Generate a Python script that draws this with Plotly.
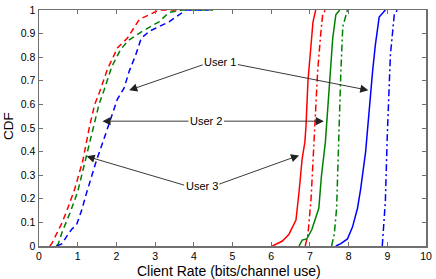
import plotly.graph_objects as go

# ---- data ----
red_dash_x = [0.28, 0.33, 0.45, 0.60, 0.72, 0.92, 1.13, 1.31, 1.44, 1.56, 1.77, 2.03, 2.28, 2.59, 2.85, 3.10, 3.60]
red_dash_y = [0.00, 0.01, 0.05, 0.10, 0.15, 0.24, 0.36, 0.51, 0.60, 0.65, 0.75, 0.84, 0.88, 0.96, 0.98, 1.00, 1.00]

green_dash_x = [0.45, 0.50, 0.60, 0.80, 1.00, 1.20, 1.40, 1.55, 1.68, 1.88, 2.10, 2.30, 2.67, 3.10, 3.36, 3.70, 4.50]
green_dash_y = [0.00, 0.01, 0.06, 0.14, 0.23, 0.36, 0.50, 0.60, 0.66, 0.76, 0.83, 0.87, 0.91, 0.95, 0.99, 1.00, 1.00]

blue_dash_x = [0.46, 0.60, 0.71, 0.84, 0.97, 1.10, 1.22, 1.48, 1.65, 1.82, 2.02, 2.20, 2.33, 2.50, 2.64, 2.85, 3.36, 3.80, 4.40]
blue_dash_y = [0.00, 0.01, 0.04, 0.07, 0.09, 0.15, 0.22, 0.36, 0.44, 0.52, 0.62, 0.67, 0.74, 0.81, 0.88, 0.91, 0.95, 1.00, 1.00]

red_solid_x = [6.03, 6.28, 6.46, 6.64, 6.72, 6.80, 6.87, 6.90, 6.95, 7.03, 7.08, 7.15]
red_solid_y = [0.00, 0.02, 0.05, 0.11, 0.23, 0.37, 0.44, 0.51, 0.70, 0.88, 0.95, 1.00]

red_dd_x = [6.88, 6.95, 7.03, 7.10, 7.15, 7.20, 7.28, 7.33, 7.40]
red_dd_y = [0.00, 0.05, 0.20, 0.44, 0.60, 0.74, 0.90, 0.98, 1.00]

green_solid_x = [6.72, 6.80, 6.92, 7.05, 7.23, 7.30, 7.40, 7.45, 7.51, 7.59, 7.67, 7.77]
green_solid_y = [0.00, 0.025, 0.03, 0.07, 0.16, 0.30, 0.44, 0.55, 0.70, 0.88, 0.98, 1.00]

green_dd_x = [7.56, 7.63, 7.69, 7.74, 7.77, 7.80, 7.85, 7.97]
green_dd_y = [0.00, 0.05, 0.16, 0.44, 0.55, 0.74, 0.93, 1.00]

blue_solid_x = [7.67, 7.80, 7.97, 8.10, 8.23, 8.31, 8.44, 8.54, 8.62, 8.69, 8.79, 8.95]
blue_solid_y = [0.00, 0.01, 0.03, 0.08, 0.16, 0.24, 0.40, 0.60, 0.74, 0.85, 0.97, 1.00]

blue_dd_x = [8.87, 8.95, 9.00, 9.08, 9.18, 9.26]
blue_dd_y = [0.00, 0.19, 0.47, 0.81, 0.98, 1.00]

x_ticks = list(range(0, 11))
y_ticks = [0, 0.1, 0.2, 0.3, 0.4, 0.5, 0.6, 0.7, 0.8, 0.9, 1]
y_tick_labels = ["0", "0.1", "0.2", "0.3", "0.4", "0.5", "0.6", "0.7", "0.8", "0.9", "1"]

labels = ["User 1", "User 2", "User 3"]
label_x = [4.67, 4.31, 4.20]
label_y = [0.778, 0.529, 0.256]
# arrow tips (left group, right group) and tails
tip_left_x = [2.33, 1.64, 1.23]
tip_left_y = [0.66, 0.529, 0.38]
tip_right_x = [8.51, 7.36, 6.72]
tip_right_y = [0.66, 0.529, 0.384]
tail_left_x = [4.27, 3.90, 3.79]
tail_left_y = [0.77, 0.529, 0.256]
tail_right_x = [5.10, 4.74, 4.62]
tail_right_y = [0.77, 0.529, 0.26]

RED, GREEN, BLUE = "#ff0000", "#008000", "#0000ff"
DASH = "6px,4px"
DASHDOT = "7px,3px,2px,3px"

fig = go.Figure()
series = [
    (red_dash_x, red_dash_y, RED, DASH),
    (green_dash_x, green_dash_y, GREEN, DASH),
    (blue_dash_x, blue_dash_y, BLUE, DASH),
    (red_solid_x, red_solid_y, RED, "solid"),
    (red_dd_x, red_dd_y, RED, DASHDOT),
    (green_solid_x, green_solid_y, GREEN, "solid"),
    (green_dd_x, green_dd_y, GREEN, DASHDOT),
    (blue_solid_x, blue_solid_y, BLUE, "solid"),
    (blue_dd_x, blue_dd_y, BLUE, DASHDOT),
]
for xs, ys, c, d in series:
    fig.add_trace(go.Scatter(x=xs, y=ys, mode="lines",
                             line=dict(color=c, width=1.5, dash=d),
                             showlegend=False, hoverinfo="skip"))

annotations = []
for i, lab in enumerate(labels):
    annotations.append(dict(x=label_x[i], y=label_y[i], xref="x", yref="y", text=lab,
                            showarrow=False, font=dict(size=11, color="black"),
                            bgcolor="rgba(0,0,0,0)"))
    for tx, ty, sx, sy in [(tip_left_x[i], tip_left_y[i], tail_left_x[i], tail_left_y[i]),
                           (tip_right_x[i], tip_right_y[i], tail_right_x[i], tail_right_y[i])]:
        annotations.append(dict(x=tx, y=ty, xref="x", yref="y", ax=sx, ay=sy,
                                axref="x", ayref="y", text="", showarrow=True,
                                arrowhead=2, arrowsize=1.8, arrowwidth=0.9,
                                arrowcolor="#222222"))

annotations.append(dict(x=0.49, y=-0.104, xref="paper", yref="paper",
                        text="Client Rate (bits/channel use)", showarrow=False,
                        font=dict(size=14, color="black"), yanchor="middle"))
annotations.append(dict(x=-0.079, y=0.51, xref="paper", yref="paper",
                        text="CDF", showarrow=False, textangle=-90,
                        font=dict(size=13.5, color="black"), xanchor="center",
                        yanchor="middle"))

axis_common = dict(showgrid=False, zeroline=False, showline=True, mirror="ticks",
                   linecolor="#707070", linewidth=1.5, ticks="inside", ticklen=4,
                   tickcolor="#707070", tickwidth=1, ticklabeloverflow="allow",
                   tickfont=dict(size=10.5, color="black"))

fig.update_layout(
    width=436, height=279,
    margin=dict(l=39, r=7, t=4, b=33),
    paper_bgcolor="white", plot_bgcolor="white",
    font=dict(family="Liberation Sans, Arial, sans-serif", color="black"),
    xaxis=dict(range=[0, 10], tickvals=x_ticks, **axis_common),
    yaxis=dict(range=[0, 1], tickvals=y_ticks, ticktext=y_tick_labels, **axis_common),
    annotations=annotations,
)

fig.write_html("out.html", config={"displayModeBar": False, "staticPlot": True},
               post_script="document.body.style.margin='0';document.body.style.padding='0';")
